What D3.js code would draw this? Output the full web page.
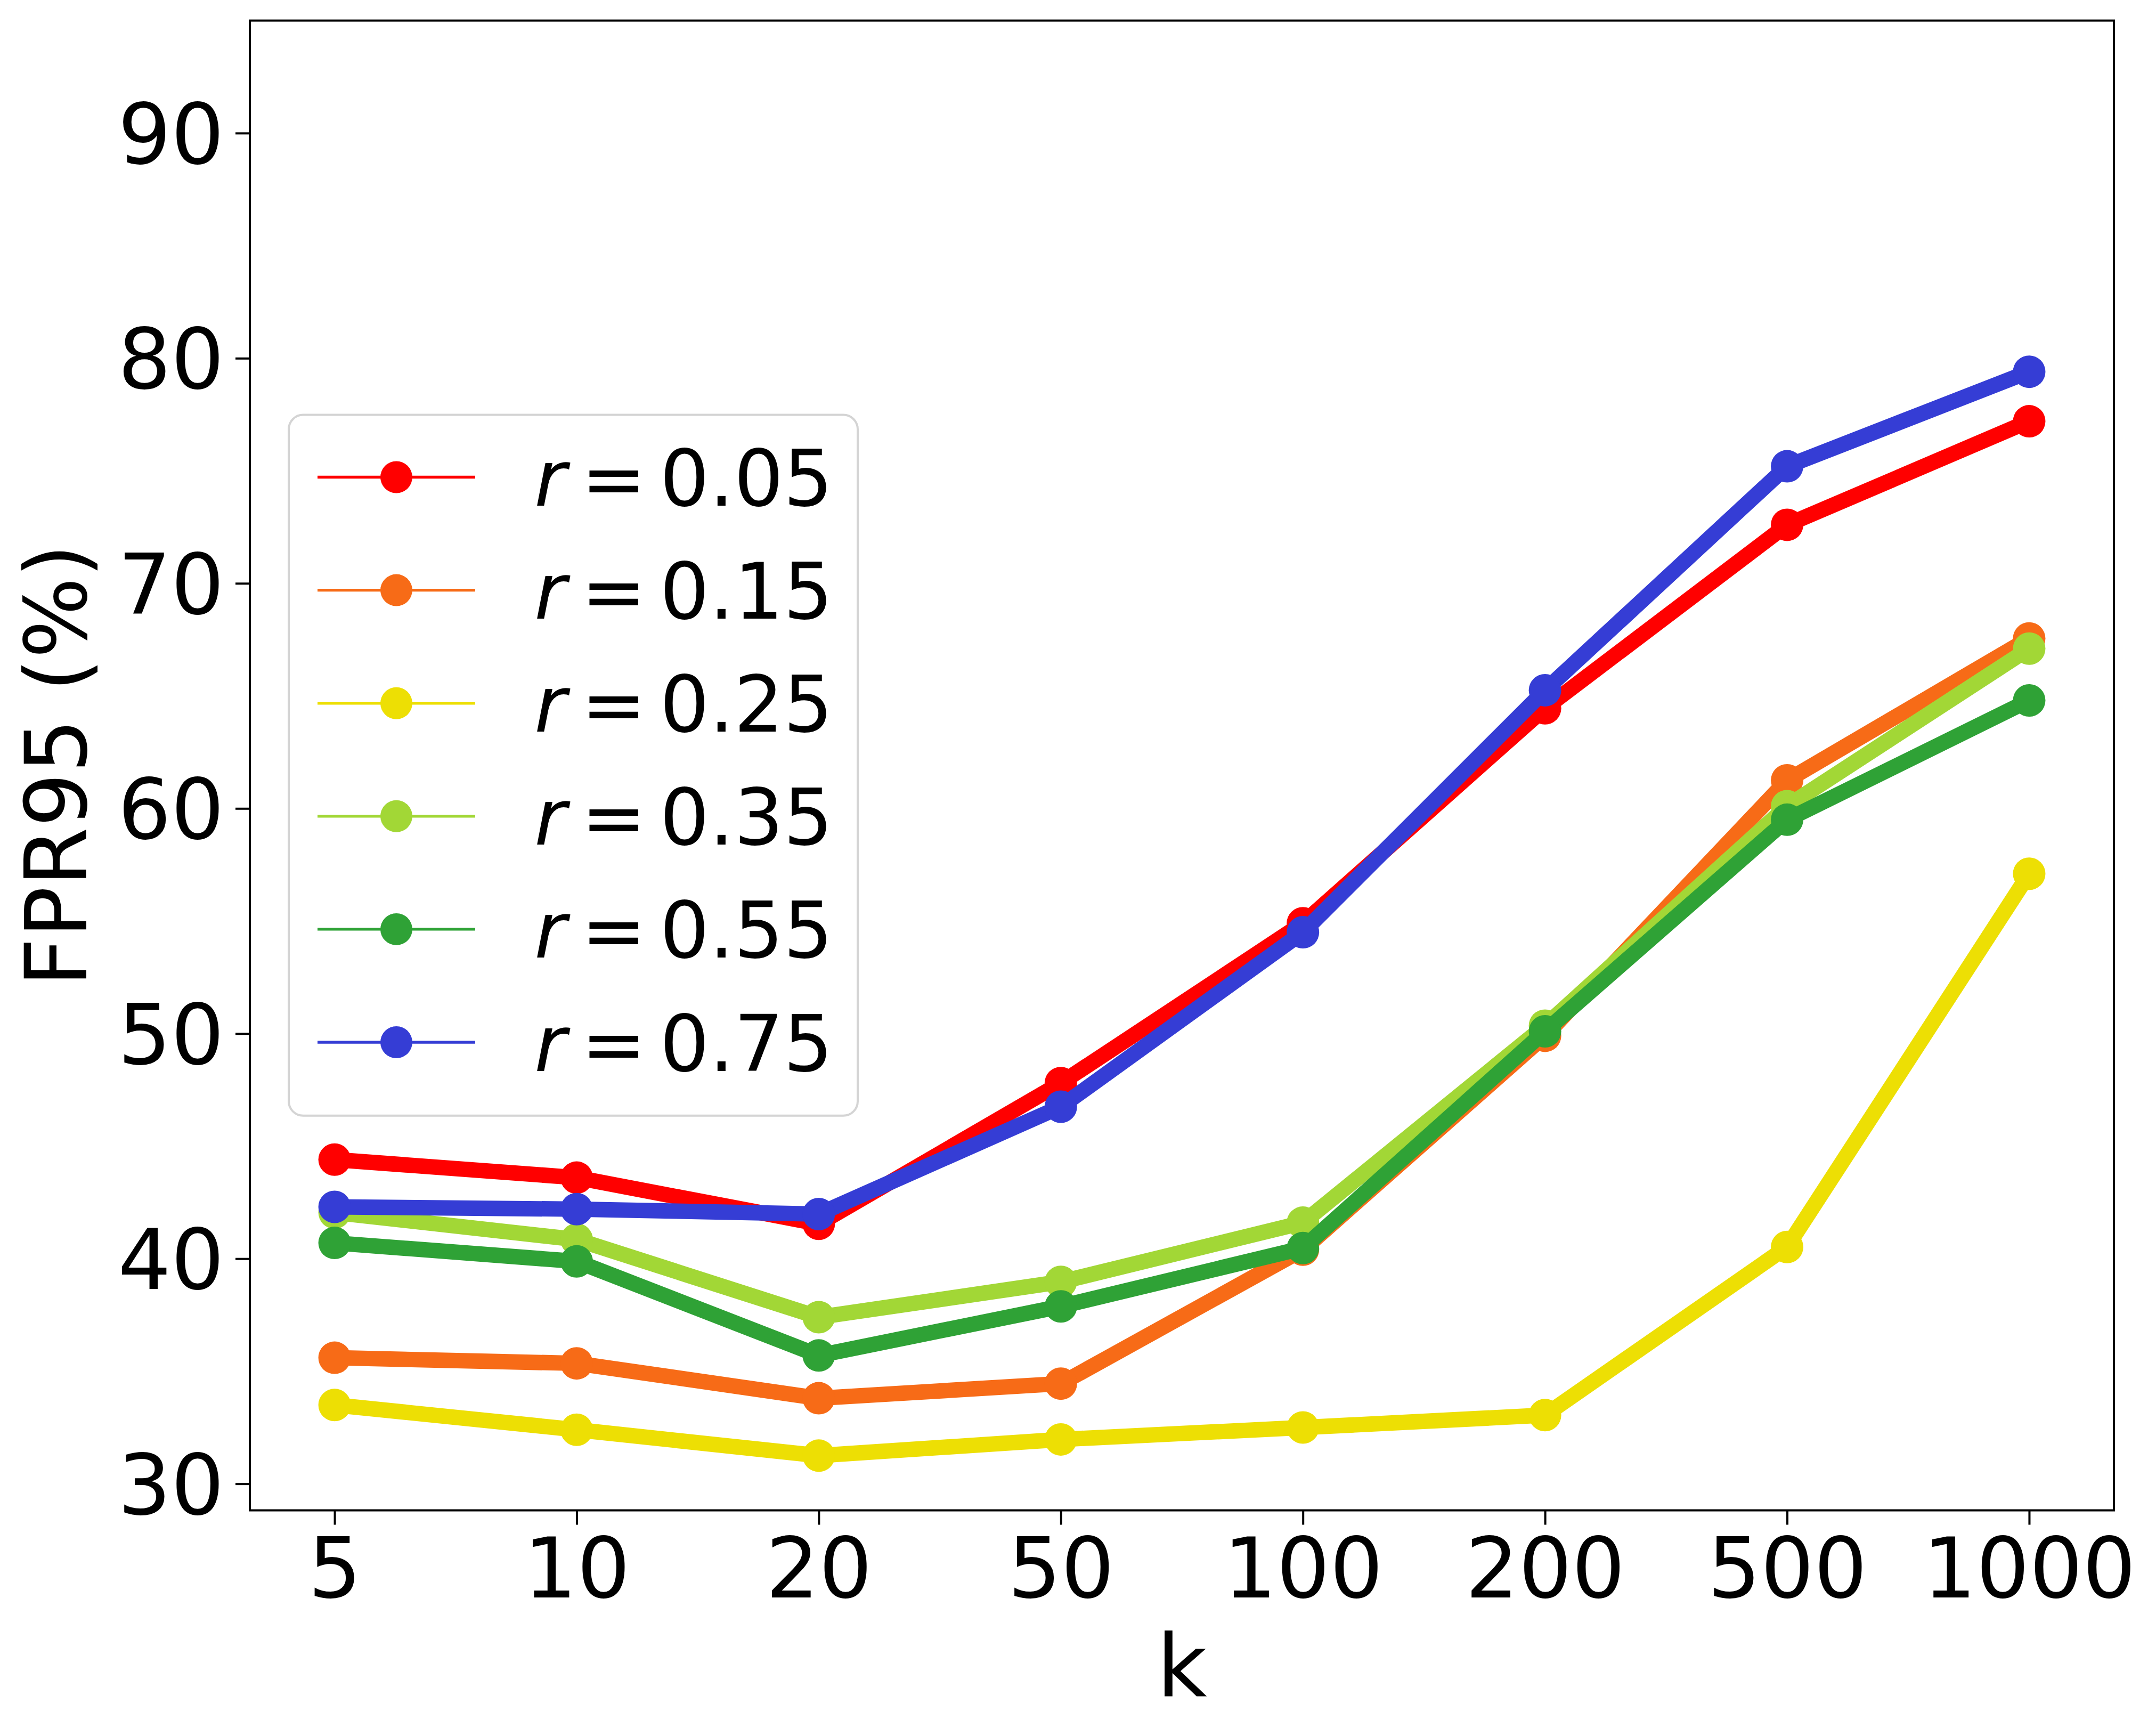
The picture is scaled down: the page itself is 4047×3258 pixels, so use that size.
<!DOCTYPE html>
<html>
<head>
<meta charset="utf-8">
<script src="https://cdn.jsdelivr.net/npm/d3@7/dist/d3.min.js"></script>
<style>
  html, body { margin: 0; padding: 0; background: #ffffff; }
  svg { display: block; }
  text { font-family: "DejaVu Sans", sans-serif; fill: #000; }
</style>
</head>
<body>
<script>
// ---------------- data ----------------
const kLabels = ["5", "10", "20", "50", "100", "200", "500", "1000"];
const yTicks = [30, 40, 50, 60, 70, 80, 90];

const seriesNames = ["0.05", "0.15", "0.25", "0.35", "0.55", "0.75"];
const seriesColors = ["#ff0000", "#f76b17", "#eddf04", "#a2d736", "#2fa236", "#353dd5"];

const r005 = [44.4, 43.6, 41.55, 47.8, 54.9, 64.45, 72.6, 77.2];
const r015 = [35.6, 35.35, 33.8, 34.45, 40.4, 49.9, 61.25, 67.55];
const r025 = [33.5, 32.4, 31.25, 31.97, 32.5, 33.05, 40.52, 57.1];
const r035 = [42.05, 40.85, 37.4, 38.97, 41.6, 50.35, 60.1, 67.1];
const r055 = [40.7, 39.88, 35.7, 37.88, 40.47, 50.1, 59.5, 64.8];
const r075 = [42.3, 42.2, 41.98, 46.75, 54.5, 65.25, 75.2, 79.4];

const seriesValues = [r005, r015, r025, r035, r055, r075];

// ---------------- layout ----------------
const W = 4047, H = 3258;
const plot = { left: 469, right: 3968, top: 38.6, bottom: 2834.5 };

const svg = d3.select("body").append("svg")
  .attr("width", W).attr("height", H)
  .attr("viewBox", `0 0 ${W} ${H}`);

const x = d3.scaleLinear()
  .domain([-0.35, kLabels.length - 1 + 0.35])
  .range([plot.left, plot.right]);
const y = d3.scaleLinear()
  .domain([28.82, 95.0])
  .range([plot.bottom, plot.top]);

const tickFont = 157;
const tickLen = 27;
const axisW = 4;

// ---------------- axes ----------------
const xAxis = d3.axisBottom(x)
  .tickValues(d3.range(kLabels.length))
  .tickFormat(i => kLabels[i])
  .tickSize(tickLen)
  .tickPadding(25)
  .tickSizeOuter(0);
const gx = svg.append("g")
  .attr("transform", `translate(0,${plot.bottom})`)
  .call(xAxis);
gx.select(".domain").remove();
gx.selectAll(".tick line").attr("stroke", "#000").attr("stroke-width", axisW);
gx.selectAll(".tick text")
  .attr("font-size", tickFont)
  .attr("font-family", "DejaVu Sans")
  .attr("fill", "#000");

const yAxis = d3.axisLeft(y)
  .tickValues(yTicks)
  .tickFormat(d3.format("d"))
  .tickSize(tickLen)
  .tickPadding(21)
  .tickSizeOuter(0);
const gy = svg.append("g")
  .attr("transform", `translate(${plot.left},0)`)
  .call(yAxis);
gy.select(".domain").remove();
gy.selectAll(".tick line").attr("stroke", "#000").attr("stroke-width", axisW);
gy.selectAll(".tick text")
  .attr("font-size", tickFont)
  .attr("font-family", "DejaVu Sans")
  .attr("fill", "#000")
  .attr("dy", "0.36em");

// axis labels
svg.append("text")
  .attr("x", (plot.left + plot.right) / 2)
  .attr("y", 3183)
  .attr("text-anchor", "middle")
  .attr("font-size", 163)
  .text("k");

svg.append("text")
  .attr("transform", `translate(162,${(plot.top + plot.bottom) / 2}) rotate(-90)`)
  .attr("text-anchor", "middle")
  .attr("font-size", 160)
  .text("FPR95 (%)");

// ---------------- series ----------------
const lineGen = d3.line()
  .x((d, i) => x(i))
  .y(d => y(d));

const lineW = 29;
const markerR = 30.5;

seriesValues.forEach((vals, si) => {
  const g = svg.append("g");
  g.append("path")
    .datum(vals)
    .attr("d", lineGen)
    .attr("fill", "none")
    .attr("stroke", seriesColors[si])
    .attr("stroke-width", lineW)
    .attr("stroke-linejoin", "round")
    .attr("stroke-linecap", "butt");
  g.selectAll("circle")
    .data(vals)
    .join("circle")
    .attr("cx", (d, i) => x(i))
    .attr("cy", d => y(d))
    .attr("r", markerR)
    .attr("fill", seriesColors[si]);
});

// spines on top
svg.append("rect")
  .attr("x", plot.left).attr("y", plot.top)
  .attr("width", plot.right - plot.left)
  .attr("height", plot.bottom - plot.top)
  .attr("fill", "none")
  .attr("stroke", "#000")
  .attr("stroke-width", axisW);

// ---------------- legend ----------------
const leg = { left: 542, top: 778.6, right: 1610, bottom: 2093.8 };
const lg = svg.append("g");
lg.append("rect")
  .attr("x", leg.left).attr("y", leg.top)
  .attr("width", leg.right - leg.left)
  .attr("height", leg.bottom - leg.top)
  .attr("rx", 27).attr("ry", 27)
  .attr("fill", "#ffffff").attr("fill-opacity", 0.8)
  .attr("stroke", "#d4d4d4").attr("stroke-width", 4);

const rowY = d3.scaleLinear().domain([0, 5]).range([895.5, 1956]);
const legFont = 146;

seriesNames.forEach((name, i) => {
  const cy = rowY(i);
  lg.append("line")
    .attr("x1", 596).attr("x2", 892)
    .attr("y1", cy).attr("y2", cy)
    .attr("stroke", seriesColors[i])
    .attr("stroke-width", 5.4);
  lg.append("circle")
    .attr("cx", 744).attr("cy", cy)
    .attr("r", 30)
    .attr("fill", seriesColors[i]);
  const t = lg.append("text")
    .attr("x", 1003)
    .attr("y", cy + 53.5)
    .attr("font-size", legFont);
  t.append("tspan").attr("font-style", "italic").text("r");
  t.append("tspan").attr("dx", 28).text("=");
  t.append("tspan").attr("dx", 25).text(name);
});
</script>
</body>
</html>
